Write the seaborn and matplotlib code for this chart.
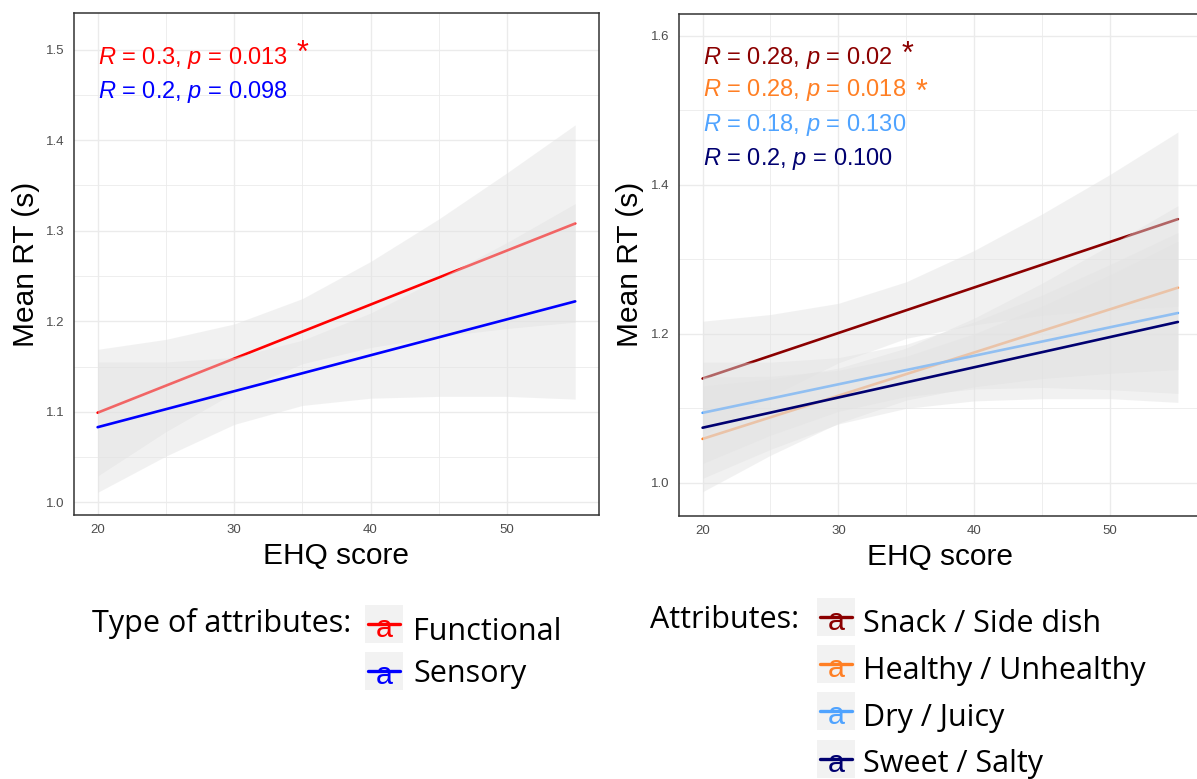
import matplotlib
matplotlib.use("Agg")
import matplotlib.pyplot as plt
import seaborn as sns
from matplotlib.patches import Rectangle
from matplotlib.lines import Line2D

# ---- data ----
ehq_ends = [20, 55]                       # fitted lines run from 20 to 55
band_x = [20, 25, 30, 35, 40, 45, 50, 55]  # x positions where the CI bands were read

# left panel: type of attributes
left_names = ["Functional", "Sensory"]
left_colors = ["#ff0000", "#0000ff"]
left_start = [1.099, 1.083]
left_end = [1.308, 1.222]
left_upper = [
    [1.169, 1.180, 1.197, 1.225, 1.266, 1.313, 1.364, 1.417],
    [1.155, 1.155, 1.160, 1.179, 1.209, 1.247, 1.287, 1.330],
]
left_lower = [
    [1.029, 1.078, 1.121, 1.153, 1.171, 1.183, 1.192, 1.199],
    [1.011, 1.051, 1.086, 1.107, 1.115, 1.117, 1.117, 1.114],
]
left_stats = [r"$R$ = 0.3, $p$ = 0.013", r"$R$ = 0.2, $p$ = 0.098"]

# right panel: attributes
right_names = ["Snack / Side dish", "Healthy / Unhealthy", "Dry / Juicy", "Sweet / Salty"]
right_colors = ["#8b0000", "#ff7f24", "#4fa3ff", "#000070"]
right_start = [1.140, 1.059, 1.094, 1.074]
right_end = [1.354, 1.262, 1.228, 1.216]
right_upper = [
    [1.217, 1.226, 1.241, 1.270, 1.312, 1.361, 1.414, 1.471],
    [1.130, 1.139, 1.154, 1.181, 1.221, 1.268, 1.319, 1.372],
    [1.162, 1.162, 1.168, 1.186, 1.216, 1.252, 1.293, 1.336],
    [1.142, 1.143, 1.151, 1.170, 1.200, 1.237, 1.279, 1.324],
]
right_lower = [
    [1.063, 1.116, 1.161, 1.194, 1.212, 1.225, 1.232, 1.237],
    [0.988, 1.037, 1.080, 1.111, 1.129, 1.140, 1.147, 1.152],
    [1.026, 1.064, 1.096, 1.116, 1.126, 1.128, 1.125, 1.120],
    [1.006, 1.045, 1.079, 1.100, 1.110, 1.113, 1.113, 1.108],
]
right_stats = [r"$R$ = 0.28, $p$ = 0.02", r"$R$ = 0.28, $p$ = 0.018",
               r"$R$ = 0.18, $p$ = 0.130", r"$R$ = 0.2, $p$ = 0.100"]

# ---- style ----
sns.set_style("white")
plt.rcParams["font.family"] = ["Liberation Sans", "DejaVu Sans"]
plt.rcParams["mathtext.fontset"] = "custom"
plt.rcParams["mathtext.rm"] = "Liberation Sans"
plt.rcParams["mathtext.it"] = "Liberation Sans:italic"
plt.rcParams["text.color"] = "black"
plt.rcParams["axes.labelcolor"] = "black"

W, H = 1197, 779
fig = plt.figure(figsize=(W / 100, H / 100), dpi=100)
band_fill = "#e2e2e2"


def fx(px):
    return px / W


def fy(py):
    return 1 - py / H


def draw_panel(ax, colors, starts, ends, uppers, lowers):
    # each band is drawn right before its line, so later bands wash over earlier lines
    for i, (c, s, e, up, lo) in enumerate(zip(colors, starts, ends, uppers, lowers)):
        ax.fill_between(band_x, lo, up, color=band_fill, alpha=0.45, lw=0, zorder=2 + 2 * i)
        sns.lineplot(x=ehq_ends, y=[s, e], color=c, linewidth=1.9, ax=ax, zorder=3 + 2 * i)


def style_axes(ax, ylim, yticks, yminor):
    ax.set_xlim(18.25, 56.75)
    ax.set_ylim(*ylim)
    ax.set_xticks([20, 30, 40, 50], labels=["20", "30", "40", "50"])
    ax.set_xticks([25, 35, 45], minor=True)
    ax.set_yticks(yticks, labels=[f"{t:.1f}" for t in yticks])
    ax.set_yticks(yminor, minor=True)
    ax.grid(which="major", color="#ebebeb", lw=1.0)
    ax.grid(which="minor", color="#ebebeb", lw=0.6)
    ax.set_axisbelow(True)
    ax.tick_params(which="major", length=3.5, width=0.8, color="#333333",
                   labelsize=9.5, labelcolor="#4d4d4d", pad=3.2)
    ax.tick_params(which="minor", length=0)
    for sp in ax.spines.values():
        sp.set_color("#333333")
        sp.set_linewidth(1.1)
    ax.set_xlabel("EHQ score", fontsize=21.5, va="center")
    ax.set_ylabel("Mean RT (s)", fontsize=21.5, va="center")


# left panel
ax1 = fig.add_axes([0.0616, 0.3389, 0.4389, 0.6438])
draw_panel(ax1, left_colors, left_start, left_end, left_upper, left_lower)
style_axes(ax1, (0.986, 1.540), [1.0, 1.1, 1.2, 1.3, 1.4, 1.5],
           [1.05, 1.15, 1.25, 1.35, 1.45])
ax1.xaxis.set_label_coords(0.5, -0.0818)
ax1.yaxis.set_label_coords(-0.091, 0.5)

for lab, c, yb in zip(left_stats, left_colors, [1.4843, 1.4469]):
    ax1.text(20, yb, lab, color=c, fontsize=17, ha="left", va="baseline")
ax1.text(35.0, 1.487, "*", color=left_colors[0], fontsize=22, ha="center", va="baseline")

# right panel (its right border falls just outside the picture)
ax2 = fig.add_axes([0.5671, 0.3381, 0.4368, 0.6445])
draw_panel(ax2, right_colors, right_start, right_end, right_upper, right_lower)
style_axes(ax2, (0.956, 1.630), [1.0, 1.2, 1.4, 1.6], [1.1, 1.3, 1.5])
ax2.xaxis.set_label_coords(0.5, -0.0818)
ax2.yaxis.set_label_coords(-0.0943, 0.5)

for lab, c, yb in zip(right_stats, right_colors, [1.5626, 1.5187, 1.4717, 1.4269]):
    ax2.text(20, yb, lab, color=c, fontsize=17, ha="left", va="baseline")
ax2.text(35.1, 1.564, "*", color=right_colors[0], fontsize=22, ha="center", va="baseline")
ax2.text(36.1, 1.513, "*", color=right_colors[1], fontsize=22, ha="center", va="baseline")

# ---- legends drawn below the panels ----
leg_font = ["Open Sans", "DejaVu Sans"]


def legend_key(x0, yc, color):
    fig.add_artist(Rectangle((fx(x0), fy(yc + 19)), 38 / W, 38 / H,
                             transform=fig.transFigure, facecolor="#f2f2f2", lw=0))
    fig.text(fx(x0 + 19), fy(yc + 13), "a", color=color, fontsize=22,
             ha="center", va="baseline")
    fig.add_artist(Line2D([fx(x0 + 3), fx(x0 + 35)], [fy(yc), fy(yc)],
                          transform=fig.transFigure, color=color, lw=2.4))


fig.text(fx(92), fy(632), "Type of attributes:", family=leg_font, fontsize=22, va="baseline")
for name, c, kc, tb in zip(left_names, left_colors, [624, 671], [640, 682]):
    legend_key(365, kc, c)
    fig.text(fx(413), fy(tb), name, family=leg_font, fontsize=22, va="baseline")

fig.text(fx(650), fy(628), "Attributes:", family=leg_font, fontsize=22, va="baseline")
for name, c, kc, tb in zip(right_names, right_colors, [617, 664, 711, 759], [632, 679, 726, 772]):
    legend_key(817, kc, c)
    fig.text(fx(863), fy(tb), name, family=leg_font, fontsize=22, va="baseline")

fig.savefig("out.png", dpi=100)
